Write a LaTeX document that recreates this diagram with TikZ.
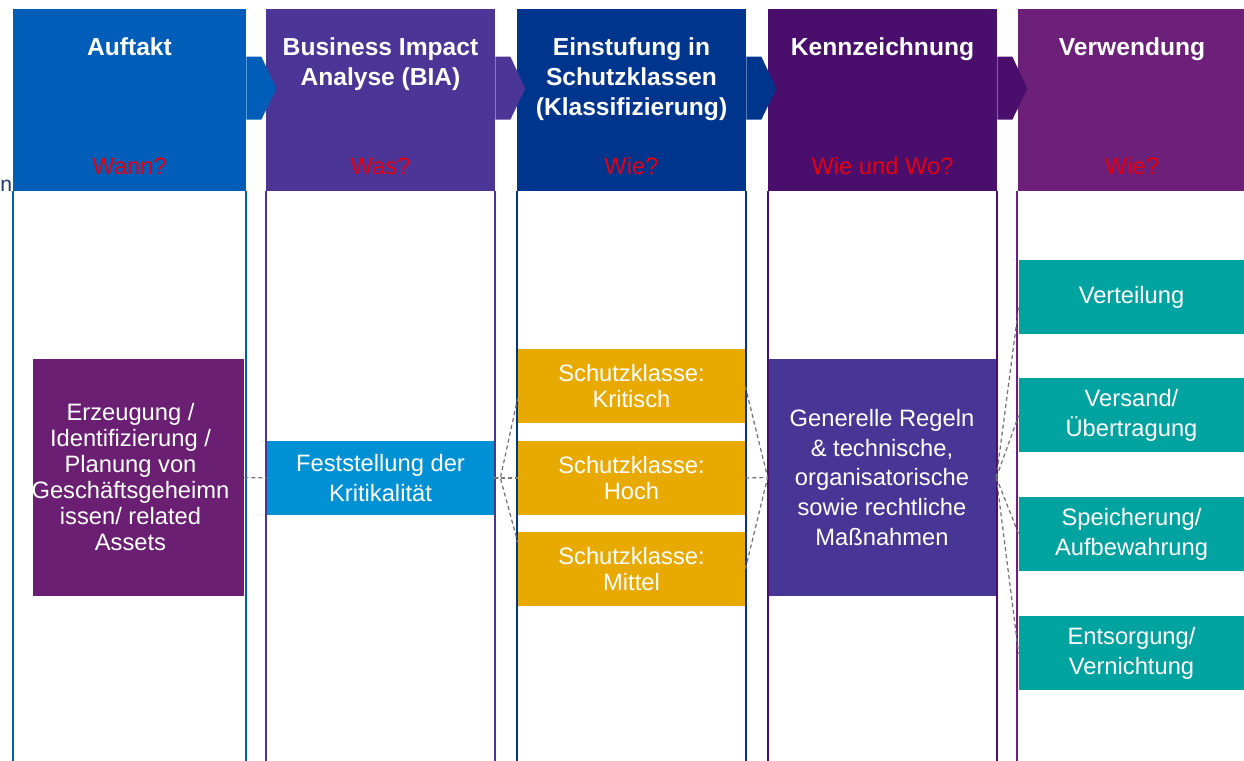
\documentclass[tikz,border=0pt]{standalone}
\usepackage{fontspec}
\setmainfont{Liberation Sans}
\usepackage{tikz}
\usetikzlibrary{positioning}

\definecolor{blau}{HTML}{005EB8}
\definecolor{lila}{HTML}{4B3596}
\definecolor{dunkelblau}{HTML}{00358E}
\definecolor{violett}{HTML}{4A0F6C}
\definecolor{pflaume}{HTML}{6C207A}
\definecolor{rot}{HTML}{E3000F}
\definecolor{hellblau}{HTML}{0091D5}
\definecolor{gold}{HTML}{E8A900}
\definecolor{petrol}{HTML}{00A39F}
\definecolor{kastenlila}{HTML}{6B1F72}
\definecolor{kastenblau}{HTML}{483697}
\definecolor{navy}{HTML}{203864}

\begin{document}
\begin{tikzpicture}
    \tikzset{kopf/.style={rectangle,inner sep=0pt,minimum height=3.64cm,minimum width=4.58cm},
             titel/.style={text=white,align=center,inner sep=0pt,font=\bfseries\fontsize{14}{17}\selectfont},
             frage/.style={text=rot,inner sep=0pt,font=\fontsize{13.5}{16}\selectfont},
             kasten/.style={rectangle,text=white,align=center,inner sep=0pt,minimum width=4.54cm,minimum height=1.48cm,font=\fontsize{13.5}{14.8}\selectfont},
             weit/.style={font=\fontsize{13.5}{17}\selectfont}}
    \tikzstyle{rand}=[line width=1.1pt]
    \tikzstyle{verbind}=[dashed,dash pattern=on 2.3pt off 1.7pt,color=black!55,line width=0.7pt]
    \useasboundingbox (0,0) rectangle (24.88,15.22);

    % Kopfzeile
    \node[kopf,fill=blau,minimum width=4.66cm] (AUF) at (2.59,13.22) {};
    \node[kopf,fill=lila] (BIA) at (7.61,13.22) {};
    \node[kopf,fill=dunkelblau] (EIN) at (12.63,13.22) {};
    \node[kopf,fill=violett] (KEN) at (17.65,13.22) {};
    \node[kopf,fill=pflaume] (VER) at (22.64,13.22) {};
    \fill[blau] ([yshift=-0.96cm]AUF.north east) -- ++(0.3,0) -- ++(0.3,-0.64) -- ++(-0.3,-0.62) -- ++(-0.3,0) -- cycle;
    \fill[lila] ([yshift=-0.96cm]BIA.north east) -- ++(0.3,0) -- ++(0.3,-0.64) -- ++(-0.3,-0.62) -- ++(-0.3,0) -- cycle;
    \fill[dunkelblau] ([yshift=-0.96cm]EIN.north east) -- ++(0.3,0) -- ++(0.3,-0.64) -- ++(-0.3,-0.62) -- ++(-0.3,0) -- cycle;
    \fill[violett] ([yshift=-0.96cm]KEN.north east) -- ++(0.3,0) -- ++(0.3,-0.64) -- ++(-0.3,-0.62) -- ++(-0.3,0) -- cycle;

    \node[titel,below=0.58cm of AUF.north] (AUFT) {Auftakt};
    \node[titel,below=0.58cm of BIA.north] (BIAT) {Business Impact\\Analyse (BIA)};
    \node[titel,below=0.58cm of EIN.north] (EINT) {Einstufung in\\Schutzklassen\\(Klassifizierung)};
    \node[titel,below=0.58cm of KEN.north] (KENT) {Kennzeichnung};
    \node[titel,below=0.58cm of VER.north] (VERT) {Verwendung};
    \node[frage,above=0.33cm of AUF.south] (AUFF) {Wann?};
    \node[frage,above=0.33cm of BIA.south] (BIAF) {Was?};
    \node[frage,above=0.33cm of EIN.south] (EINF) {Wie?};
    \node[frage,above=0.33cm of KEN.south] (KENF) {Wie und Wo?};
    \node[frage,above=0.33cm of VER.south] (VERF) {Wie?};
    \node[frage,text=navy,font=\fontsize{12}{14}\selectfont,anchor=base west] (N) at (0,11.38) {n};

    % Inhalte
    \node[kasten,fill=kastenlila,minimum width=4.22cm,minimum height=4.74cm] (ERZ) at (2.77,5.67) {};
    \node[kasten] (ERZT) at (2.61,5.67) {Erzeugung /\\Identifizierung /\\Planung von\\Geschäftsgeheimn\\issen/ related\\Assets};
    \node[kasten,weit,fill=hellblau] (FK) at (7.61,5.66) {Feststellung der\\Kritikalität};
    \node[kasten,fill=gold] (SKK) at (12.63,7.49) {Schutzklasse:\\Kritisch};
    \node[kasten,fill=gold] (SKH) at (12.63,5.66) {Schutzklasse:\\Hoch};
    \node[kasten,fill=gold] (SKM) at (12.63,3.84) {Schutzklasse:\\Mittel};
    \node[kasten,weit,fill=kastenblau,minimum width=4.56cm,minimum height=4.74cm] (GR) at (17.64,5.67) {Generelle Regeln\\\& technische,\\organisatorische\\sowie rechtliche\\Maßnahmen};
    \node[kasten,weit,fill=petrol,minimum width=4.50cm] (VT) at (22.63,9.27) {Verteilung};
    \node[kasten,weit,fill=petrol,minimum width=4.50cm] (VS) at (22.63,6.91) {Versand/\\Übertragung};
    \node[kasten,weit,fill=petrol,minimum width=4.50cm] (SP) at (22.63,4.54) {Speicherung/\\Aufbewahrung};
    \node[kasten,weit,fill=petrol,minimum width=4.50cm] (EN) at (22.63,2.15) {Entsorgung/\\Vernichtung};

    % Spalten
    \draw[rand,blau] (AUF.south west) -- ++(0,-11.4);
    \draw[rand,blau] (AUF.south east) -- ++(0,-11.4);
    \draw[rand,lila] (BIA.south west) -- ++(0,-11.4);
    \draw[rand,lila] (BIA.south east) -- ++(0,-11.4);
    \draw[rand,dunkelblau] (EIN.south west) -- ++(0,-11.4);
    \draw[rand,dunkelblau] (EIN.south east) -- ++(0,-11.4);
    \draw[rand,violett] (KEN.south west) -- ++(0,-11.4);
    \draw[rand,violett] (KEN.south east) -- ++(0,-11.4);
    \draw[rand,pflaume] (VER.south west) -- ++(0,-11.4);

    \draw[verbind] (ERZ.east) -- (FK.west);
    \draw[verbind] (FK.east) -- (SKH.west);
    \draw[verbind] (FK.east) -- ++(0.12,0) -- ([yshift=-0.24cm]SKK.west);
    \draw[verbind] (FK.east) -- ++(0.12,0) -- ([yshift=0.54cm]SKM.west);
    \draw[verbind] (SKK.east) -- (GR.west);
    \draw[verbind] (SKH.east) -- (GR.west);
    \draw[verbind] (SKM.east) -- (GR.west);
    \draw[verbind] (GR.east) -- ([yshift=-0.2cm]VT.west);
    \draw[verbind] (GR.east) -- (VS.west);
    \draw[verbind] (GR.east) -- (SP.west);
    \draw[verbind] (GR.east) -- (EN.west);
\end{tikzpicture}
\end{document}
